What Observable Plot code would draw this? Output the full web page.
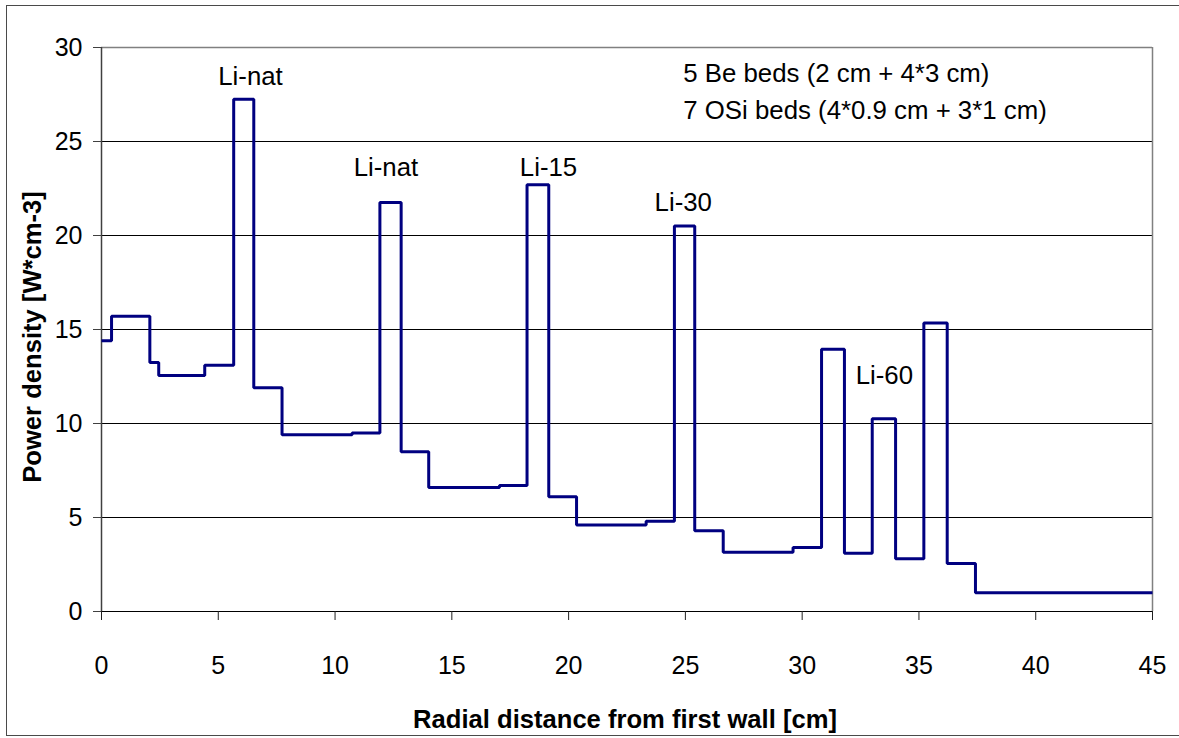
<!DOCTYPE html>
<html>
<head>
<meta charset="utf-8">
<script src="https://cdn.jsdelivr.net/npm/d3@7"></script>
<script src="https://cdn.jsdelivr.net/npm/@observablehq/plot@0.6"></script>
<style>
  html, body { margin: 0; padding: 0; background: #fff; overflow: hidden; }
  #wrap { position: relative; width: 1179px; height: 738px; }
  #border { position: absolute; left: 6px; top: 5px; width: 1200px; height: 729px;
            border: 1.5px solid #4a4a4a; pointer-events: none; }
</style>
</head>
<body>
<div id="wrap"><div id="chart"></div><div id="border"></div></div>
<script>
// Step edges (cm) and power density per segment (W*cm-3)
const edges = [0, 0.43, 2.07, 2.45, 4.42, 5.66, 6.52, 7.73, 10.73, 11.92, 12.83, 14.01, 17.04,
               18.22, 19.15, 20.34, 23.32, 24.53, 25.40, 26.62, 29.61, 30.83, 31.81, 33.0, 34.0,
               35.21, 36.21, 37.42, 45];
const power = [14.4, 15.7, 13.25, 12.55, 13.1, 27.25, 11.9, 9.4, 9.5, 21.75, 8.5, 6.6, 6.7,
               22.7, 6.1, 4.6, 4.8, 20.5, 4.3, 3.15, 3.4, 13.95, 3.1, 10.25, 2.8, 15.35, 2.55, 1.0];

const xTicks = [0, 5, 10, 15, 20, 25, 30, 35, 40, 45];
const yTicks = [0, 5, 10, 15, 20, 25, 30];
const gridY = [5, 10, 15, 20, 25];

const peakLabels = ["Li-nat", "Li-nat", "Li-15", "Li-30", "Li-60"];
const peakLabelX = [6.38, 12.18, 19.14, 24.91, 33.52];
const peakLabelY = [28.44, 23.62, 23.62, 21.76, 12.54];

const noteLines = ["5 Be beds (2 cm + 4*3 cm)", "7 OSi beds (4*0.9 cm + 3*1 cm)"];
const noteX = [24.91, 24.91];
const noteY = [28.58, 26.63];

const xTitle = "Radial distance from first wall [cm]";
const yTitle = "Power density [W*cm-3]";

const steps = edges.map((x, i) => ({x, y: power[Math.min(i, power.length - 1)]}));
const peaks = peakLabels.map((t, i) => ({t, x: peakLabelX[i], y: peakLabelY[i]}));
const notes = noteLines.map((t, i) => ({t, x: noteX[i], y: noteY[i]}));

const chart = Plot.plot({
  width: 1179,
  height: 738,
  marginLeft: 101,
  marginRight: 27,
  marginTop: 47,
  marginBottom: 127,
  style: {fontFamily: '"Liberation Sans", Arial, sans-serif', fontSize: "25px", color: "#000", background: "#fff"},
  x: {domain: [0, 45]},
  y: {domain: [0, 30]},
  marks: [
    Plot.ruleY(gridY, {stroke: "#000", strokeWidth: 1}),
    Plot.ruleY([30], {stroke: "#808080", strokeWidth: 1.5}),
    Plot.ruleX([45], {stroke: "#808080", strokeWidth: 1.5}),
    Plot.ruleX([0], {stroke: "#404040", strokeWidth: 1.5}),
    Plot.ruleY([0], {stroke: "#000", strokeWidth: 1.2}),
    Plot.axisY({ticks: yTicks, tickSize: 8, tickPadding: 11, fontSize: 25, label: null, stroke: "#404040"}),
    Plot.axisX({ticks: xTicks, tickSize: 9, tickPadding: 36, fontSize: 25, label: null, stroke: "#202020"}),
    Plot.line(steps, {x: "x", y: "y", curve: "step-after", stroke: "#000080", strokeWidth: 3,
                      strokeLinejoin: "miter", strokeLinecap: "butt"}),
    Plot.text(peaks, {x: "x", y: "y", text: "t", fontSize: 25.8, textAnchor: "middle", lineAnchor: "middle", fill: "#000"}),
    Plot.text(notes, {x: "x", y: "y", text: "t", fontSize: 25.8, textAnchor: "start", lineAnchor: "middle", fill: "#000"}),
    Plot.text([xTitle], {text: d => d, frameAnchor: "bottom", dy: 108, dx: -2, fontSize: 25.6, fontWeight: "bold",
                         textAnchor: "middle", lineAnchor: "middle", fill: "#000"}),
    Plot.text([yTitle], {text: d => d, frameAnchor: "left", dx: -68.3, dy: 7.5, rotate: -90, fontSize: 25.6,
                         fontWeight: "bold", textAnchor: "middle", lineAnchor: "middle", fill: "#000"})
  ]
});
document.getElementById("chart").appendChild(chart);
</script>
</body>
</html>
